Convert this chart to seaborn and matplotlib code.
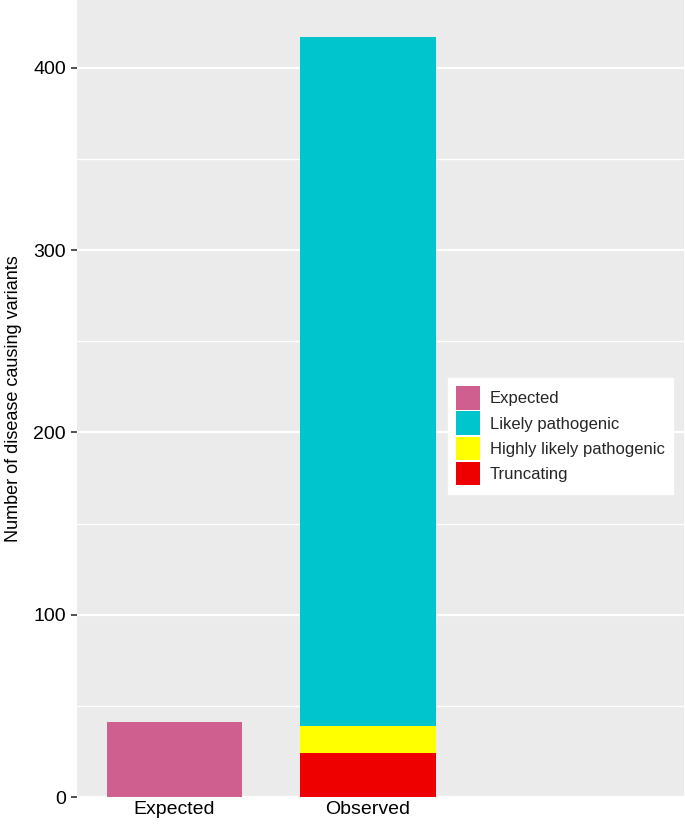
import matplotlib
matplotlib.use("Agg")
import matplotlib.pyplot as plt
import seaborn as sns
import pandas as pd
from matplotlib.patches import Patch

categories = ["Expected", "Observed"]
expected_value = 41
truncating = 24
highly_likely = 15
likely_pathogenic = 378

legend_labels = ["Expected", "Likely pathogenic", "Highly likely pathogenic", "Truncating"]
colors = {"Expected": "#CF5F8F", "Likely pathogenic": "#00C5CD",
          "Highly likely pathogenic": "#FFFF00", "Truncating": "#EE0000"}

sns.set_theme(style="darkgrid")
plt.rcParams["font.family"] = ["Liberation Sans", "DejaVu Sans"]

fig = plt.figure(figsize=(6.85, 8.24), dpi=100)
ax = fig.add_axes([77/685, 27/824, 607/685, 797/824])
ax.set_facecolor("#EBEBEB")

# cumulative layers (drawn largest first)
layers = [
    ("Likely pathogenic", [0, truncating + highly_likely + likely_pathogenic]),
    ("Highly likely pathogenic", [0, truncating + highly_likely]),
    ("Truncating", [0, truncating]),
]
df_exp = pd.DataFrame({"cat": categories, "val": [expected_value, 0]})
sns.barplot(data=df_exp, x="cat", y="val", order=categories, color=colors["Expected"],
            saturation=1, width=0.7, linewidth=0, ax=ax, errorbar=None)
for name, vals in layers:
    df = pd.DataFrame({"cat": categories, "val": vals})
    sns.barplot(data=df, x="cat", y="val", order=categories, color=colors[name],
                saturation=1, width=0.7, linewidth=0, ax=ax, errorbar=None)

ax.set_xlim(-0.504, 2.633)
ax.set_ylim(0, 437.3)
ax.set_yticks([0, 100, 200, 300, 400])
ax.set_yticks([50, 150, 250, 350], minor=True)
ax.grid(True, which="major", color="white", linewidth=1.6)
ax.grid(True, which="minor", axis="y", color="white", linewidth=1.0)
ax.grid(False, axis="x", which="both")
ax.set_axisbelow(True)
for s in ax.spines.values():
    s.set_visible(False)

ax.set_xlabel("")
ax.set_ylabel("Number of disease causing variants", fontsize=13, color="black", labelpad=8)
ax.tick_params(axis="y", which="major", length=4, width=1.2, color="#333333",
               labelsize=14, labelcolor="black", left=True, pad=4)
ax.tick_params(axis="y", which="minor", length=0)
ax.tick_params(axis="x", length=0, labelsize=14, labelcolor="black", pad=3)

handles = [Patch(facecolor=colors[l], edgecolor="none") for l in legend_labels]
leg = ax.legend(handles, legend_labels, loc="upper left", bbox_to_anchor=(0.611, 0.526),
                frameon=True, fontsize=12, handlelength=1.45, handleheight=1.8,
                handletextpad=0.55, labelspacing=0.1, borderpad=0.5, borderaxespad=0,
                fancybox=False)
leg.get_frame().set_facecolor("white")
leg.get_frame().set_edgecolor("white")
leg.get_frame().set_alpha(1)

fig.savefig("out.png", dpi=100)
